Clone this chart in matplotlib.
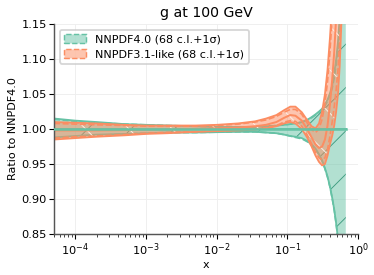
#!/usr/bin/env python3
"""
Ratio of the gluon PDF at 100 GeV: NNPDF4.0 vs NNPDF3.1-like fit,
68 c.l. bands with 1 sigma dashed lines.
"""

import matplotlib.pyplot as plt
from matplotlib.patches import Patch

X_GRID = [5e-5, 1e-4, 2e-4, 5e-4, 1e-3, 2e-3, 5e-3, 0.01, 0.02, 0.035,
          0.05, 0.07, 0.09, 0.11, 0.13, 0.16, 0.19, 0.22, 0.25, 0.28,
          0.31, 0.34, 0.37, 0.40, 0.43, 0.46, 0.49, 0.52, 0.55, 0.58,
          0.61, 0.64, 0.67]

# NNPDF4.0 (reference, central = 1)
NN40_CV = [1.0] * len(X_GRID)
NN40_UP68 = [1.015, 1.012, 1.010, 1.007, 1.006, 1.005, 1.004, 1.003, 1.003, 1.003,
             1.004, 1.005, 1.006, 1.007, 1.008, 1.010, 1.013, 1.017, 1.021, 1.025,
             1.029, 1.035, 1.042, 1.051, 1.062, 1.080, 1.100, 1.125, 1.160, 1.200,
             1.250, 1.310, 1.380]
NN40_LO68 = [0.988, 0.990, 0.992, 0.993, 0.994, 0.995, 0.995, 0.9955, 0.996, 0.996,
             0.995, 0.994, 0.992, 0.990, 0.989, 0.987, 0.983, 0.978, 0.972, 0.964,
             0.955, 0.944, 0.932, 0.918, 0.902, 0.885, 0.865, 0.843, 0.815, 0.785,
             0.750, 0.710, 0.660]
NN40_UP1S = [1.014, 1.011, 1.009, 1.007, 1.006, 1.005, 1.004, 1.003, 1.003, 1.003,
             1.004, 1.005, 1.006, 1.007, 1.008, 1.010, 1.013, 1.016, 1.020, 1.024,
             1.028, 1.033, 1.040, 1.048, 1.058, 1.073, 1.092, 1.115, 1.145, 1.185,
             1.230, 1.290, 1.360]
NN40_LO1S = [0.987, 0.989, 0.991, 0.993, 0.994, 0.995, 0.995, 0.9955, 0.996, 0.996,
             0.995, 0.994, 0.992, 0.990, 0.988, 0.986, 0.982, 0.977, 0.971, 0.963,
             0.954, 0.943, 0.931, 0.917, 0.901, 0.884, 0.864, 0.842, 0.815, 0.785,
             0.750, 0.710, 0.660]

# NNPDF3.1-like
NN31_CV = [0.998, 0.998, 0.998, 0.9985, 0.999, 0.9995, 1.000, 1.001, 1.002, 1.004,
           1.006, 1.010, 1.016, 1.020, 1.019, 1.012, 1.000, 0.988, 0.978, 0.973,
           0.975, 0.985, 1.005, 1.035, 1.070, 1.110, 1.160, 1.220, 1.290, 1.370,
           1.460, 1.560, 1.670]
NN31_UP68 = [1.010, 1.009, 1.008, 1.006, 1.005, 1.005, 1.005, 1.006, 1.008, 1.011,
             1.015, 1.020, 1.027, 1.032, 1.032, 1.024, 1.013, 1.004, 1.001, 1.008,
             1.025, 1.050, 1.085, 1.130, 1.180, 1.240, 1.300, 1.370, 1.450, 1.540,
             1.640, 1.750, 1.870]
NN31_LO68 = [0.985, 0.987, 0.989, 0.991, 0.993, 0.994, 0.996, 0.997, 0.998, 0.999,
             1.001, 1.004, 1.008, 1.010, 1.008, 1.000, 0.988, 0.975, 0.962, 0.953,
             0.948, 0.950, 0.962, 0.978, 0.990, 1.005, 1.025, 1.050, 1.090, 1.150,
             1.200, 1.260, 1.330]
NN31_UP1S = [1.008, 1.007, 1.006, 1.005, 1.004, 1.004, 1.004, 1.005, 1.007, 1.010,
             1.013, 1.018, 1.024, 1.028, 1.028, 1.021, 1.009, 0.999, 0.995, 1.000,
             1.014, 1.036, 1.068, 1.110, 1.160, 1.220, 1.280, 1.350, 1.430, 1.520,
             1.620, 1.730, 1.850]
NN31_LO1S = [0.987, 0.989, 0.990, 0.992, 0.994, 0.995, 0.996, 0.9975, 0.9985, 0.9995,
             1.002, 1.005, 1.010, 1.012, 1.011, 1.004, 0.992, 0.979, 0.967, 0.959,
             0.956, 0.959, 0.971, 0.990, 1.010, 1.032, 1.056, 1.085, 1.125, 1.175,
             1.225, 1.285, 1.355]

GREEN = "#66c2a5"
ORANGE = "#fc8d62"

LABELS = ["NNPDF4.0 (68 c.l.+1σ)", "NNPDF3.1-like (68 c.l.+1σ)"]


def draw_band(ax, cv, up68, lo68, up1s, lo1s, color, hatch, hatch_color, z):
    ax.fill_between(X_GRID, lo68, up68, facecolor=color, alpha=0.5,
                    edgecolor="none", lw=0, zorder=z)
    ax.fill_between(X_GRID, lo68, up68, facecolor="none", hatch=hatch,
                    edgecolor=hatch_color, lw=0, zorder=z + 0.1)
    ax.plot(X_GRID, up68, color=color, lw=1.0, zorder=z + 0.2)
    ax.plot(X_GRID, lo68, color=color, lw=1.0, zorder=z + 0.2)
    ax.plot(X_GRID, up1s, color=color, lw=0.9, ls="--", zorder=z + 0.3)
    ax.plot(X_GRID, lo1s, color=color, lw=0.9, ls="--", zorder=z + 0.3)
    ax.plot(X_GRID, cv, color=color, lw=1.1, zorder=z + 0.4)


def main():
    plt.rcParams["hatch.linewidth"] = 0.5
    fig = plt.figure(figsize=(374 / 130, 275 / 130), dpi=130)
    ax = fig.add_axes([0.1444, 0.149, 0.813, 0.7636])

    draw_band(ax, NN40_CV, NN40_UP68, NN40_LO68, NN40_UP1S, NN40_LO1S,
              GREEN, "/", "#3f9c80", 1)
    draw_band(ax, NN31_CV, NN31_UP68, NN31_LO68, NN31_UP1S, NN31_LO1S,
              ORANGE, "\\", "#fff1ea", 2)
    # reference central value on top
    ax.plot(X_GRID, NN40_CV, color=GREEN, lw=1.4, zorder=5)

    ax.set_xscale("log")
    ax.set_xlim(5e-5, 1)
    ax.set_ylim(0.85, 1.15)
    ax.set_yticks([0.85, 0.90, 0.95, 1.00, 1.05, 1.10, 1.15])
    ax.yaxis.set_major_formatter(plt.FormatStrFormatter("%.2f"))

    ax.grid(True, which="major", color="#eeeeee", lw=0.5)
    ax.set_axisbelow(True)
    for side in ("top", "right"):
        ax.spines[side].set_visible(False)
    for side in ("left", "bottom"):
        ax.spines[side].set_color("#555555")
        ax.spines[side].set_linewidth(0.8)
    ax.tick_params(which="major", labelsize=6.3, length=2.5, width=0.6, pad=1.5)
    ax.tick_params(which="minor", length=1.4, width=0.4)

    ax.set_xlabel("x", fontsize=6.2, labelpad=1)
    ax.set_ylabel("Ratio to NNPDF4.0", fontsize=6.2, labelpad=2)
    ax.set_title("g at 100 GeV", fontsize=7.8, pad=4)

    handles = [
        Patch(facecolor=(0.4, 0.76, 0.65, 0.5), edgecolor=GREEN, ls="--",
              hatch="/", lw=0.8, label=LABELS[0]),
        Patch(facecolor=(0.99, 0.55, 0.38, 0.5), edgecolor=ORANGE, ls="--",
              hatch="\\", lw=0.8, label=LABELS[1]),
    ]
    ax.legend(handles=handles, loc="upper left", fontsize=6.2, frameon=True,
              framealpha=0.8, edgecolor="#cccccc", borderpad=0.4,
              handlelength=2.0, handleheight=0.9, labelspacing=0.35,
              bbox_to_anchor=(0.0, 1.0))

    fig.savefig("out.png", dpi=130)


if __name__ == "__main__":
    main()
